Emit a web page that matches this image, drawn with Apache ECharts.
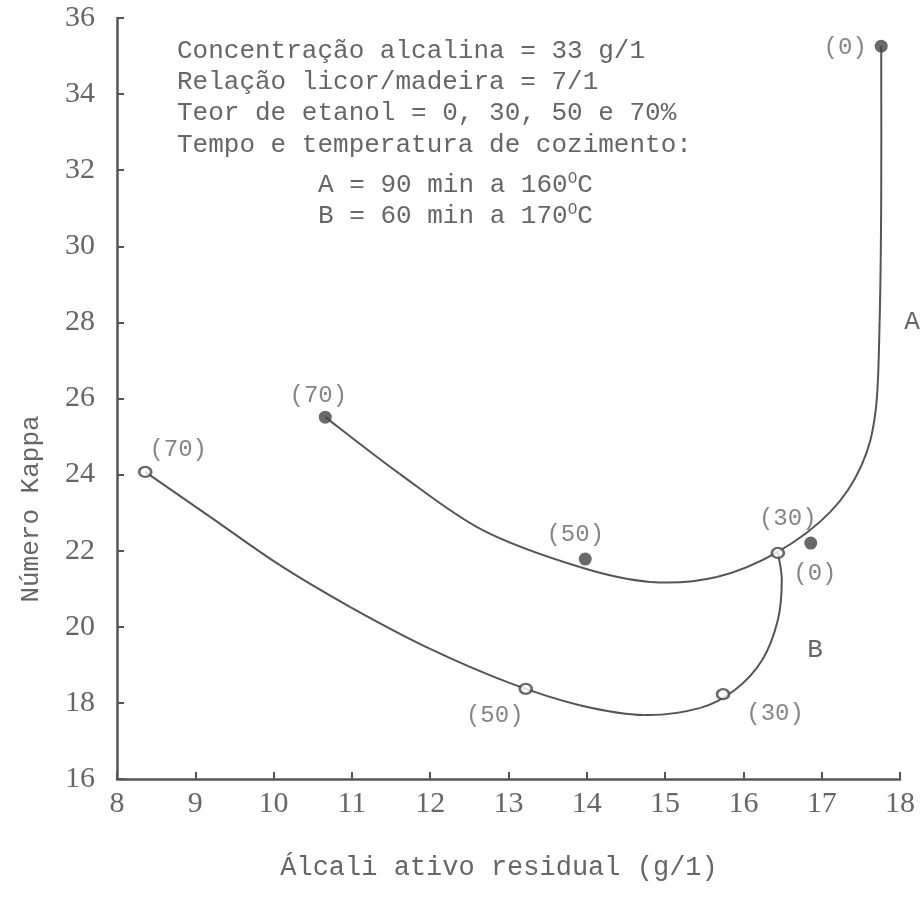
<!DOCTYPE html>
<html>
<head>
<meta charset="utf-8">
<script src="https://cdn.jsdelivr.net/npm/echarts@6/dist/echarts.min.js"></script>
<style>
  html, body { margin: 0; padding: 0; background: #fff; }
  #chart { width: 923px; height: 912px; }
</style>
</head>
<body>
<div id="chart"></div>
<script>
// Axis ranges and tick spacing
const xMin = 8, xMax = 18, xStep = 1;
const yMin = 16, yMax = 36, yStep = 2;

// Measured points, [alkali residual (g/1), kappa number]
const pointsA = [[10.66, 25.51], [13.98, 21.78], [16.86, 22.20], [17.76, 35.26]];
const pointsB = [[8.36, 24.07], [13.22, 18.37], [15.74, 18.23], [16.44, 21.94]];
// Ethanol content of each point (%)
const ethanolA = ['70', '50', '30', '0'];
const ethanolB = ['70', '50', '30', '0'];

// Hand-fitted trend curves
const curveA = [[10.66, 25.51], [11.61, 24.02], [12.67, 22.54], [13.91, 21.57], [14.81, 21.18],
  [15.66, 21.31], [16.44, 21.97], [17.11, 23.02], [17.51, 24.25], [17.69, 25.70],
  [17.74, 28.06], [17.76, 31.22], [17.76, 35.26]];
const curveB = [[8.36, 24.07], [9.19, 22.89], [10.08, 21.62], [10.98, 20.52], [12.00, 19.42],
  [13.02, 18.52], [13.91, 17.94], [14.74, 17.68], [15.45, 17.87], [15.89, 18.34],
  [16.24, 19.13], [16.44, 20.18], [16.49, 21.23], [16.44, 21.94]];

// Label offsets (px) relative to each marker
const offsetsA = [[-7, -22], [-10, -24], [-23, -24], [-36, 1]];
const offsetsB = [[33, -22], [-31, 27], [52, 19], [37, 21]];

const ink = '#555';
const textInk = '#666';
const mono = '"Liberation Mono", "DejaVu Sans Mono", monospace';
const serif = '"Liberation Serif", "DejaVu Serif", serif';

const chart = echarts.init(document.getElementById('chart'));

function labelled(points, names, offsets) {
  return points.map((p, i) => ({
    value: p,
    label: { offset: offsets[i], formatter: '(' + names[i] + ')' }
  }));
}

// Smooth Catmull-Rom curve through the fitted points, drawn in pixel space
function curveRenderer(points) {
  return function (params, api) {
    if (params.dataIndex !== 0) return null;
    const px = points.map(p => api.coord(p));
    const children = [];
    for (let i = 0; i < px.length - 1; i++) {
      const p0 = px[i - 1] || px[i];
      const p1 = px[i];
      const p2 = px[i + 1];
      const p3 = px[i + 2] || p2;
      children.push({
        type: 'bezierCurve',
        shape: {
          x1: p1[0], y1: p1[1], x2: p2[0], y2: p2[1],
          cpx1: p1[0] + (p2[0] - p0[0]) / 6, cpy1: p1[1] + (p2[1] - p0[1]) / 6,
          cpx2: p2[0] - (p3[0] - p1[0]) / 6, cpy2: p2[1] - (p3[1] - p1[1]) / 6
        },
        style: { stroke: ink, lineWidth: 2, fill: null }
      });
    }
    return { type: 'group', children: children };
  };
}

const pointLabel = {
  show: true, position: 'inside',
  fontFamily: mono, fontSize: 24, color: textInk
};

const notes = [
  { text: 'Concentração alcalina = 33 g/1', x: 177, y: 51 },
  { text: 'Relação licor/madeira = 7/1', x: 177, y: 82 },
  { text: 'Teor de etanol = 0, 30, 50 e 70%', x: 177, y: 113 },
  { text: 'Tempo e temperatura de cozimento:', x: 177, y: 145 },
  { text: 'A = 90 min a 160{sup|O}C', x: 318, y: 185 },
  { text: 'B = 60 min a 170{sup|O}C', x: 318, y: 216 }
];

const graphics = notes.map(n => ({
  type: 'text', x: n.x, y: n.y,
  style: {
    text: n.text, fontFamily: mono, fontSize: 26, fill: textInk,
    verticalAlign: 'middle',
    rich: { sup: { fontFamily: mono, fontSize: 16, fill: textInk, verticalAlign: 'top', padding: [0, 0, 12, 0] } }
  }
}));

graphics.push(
  { type: 'text', x: 912, y: 322, style: { text: 'A', fontFamily: mono, fontSize: 26, fill: textInk, align: 'center', verticalAlign: 'middle' } },
  { type: 'text', x: 815, y: 650, style: { text: 'B', fontFamily: mono, fontSize: 26, fill: textInk, align: 'center', verticalAlign: 'middle' } },
  { type: 'text', x: 499, y: 868, style: { text: 'Álcali ativo residual (g/1)', fontFamily: mono, fontSize: 27, fill: textInk, align: 'center', verticalAlign: 'middle' } },
  { type: 'text', x: 31, y: 509, rotation: Math.PI / 2, style: { text: 'Número Kappa', fontFamily: mono, fontSize: 26, fill: textInk, align: 'center', verticalAlign: 'middle' } }
);

function makeAxis(min, max, step, margin) {
  return {
    type: 'value', min: min, max: max, interval: step,
    splitLine: { show: false },
    axisLine: { show: true, lineStyle: { color: ink, width: 2.5 } },
    axisTick: { show: true, inside: false, length: -7, lineStyle: { color: ink, width: 2 } },
    axisLabel: { fontFamily: serif, fontSize: 30, color: textInk, margin: margin }
  };
}

chart.setOption({
  animation: false,
  backgroundColor: '#fff',
  grid: { left: 117, right: 23, top: 18, bottom: 133, containLabel: false },
  xAxis: makeAxis(xMin, xMax, xStep, 10),
  yAxis: makeAxis(yMin, yMax, yStep, 22),
  graphic: graphics,
  series: [
    {
      name: 'A curve', type: 'custom', data: curveA,
      encode: { x: 0, y: 1 }, renderItem: curveRenderer(curveA), z: 2
    },
    {
      name: 'B curve', type: 'custom', data: curveB,
      encode: { x: 0, y: 1 }, renderItem: curveRenderer(curveB), z: 2
    },
    {
      name: 'A', type: 'scatter', symbol: 'circle', symbolSize: 13,
      itemStyle: { color: '#444' },
      label: pointLabel,
      data: labelled(pointsA, ethanolA, offsetsA), z: 3
    },
    {
      name: 'B', type: 'scatter', symbol: 'circle', symbolSize: [12, 10],
      itemStyle: { color: '#fff', borderColor: '#444', borderWidth: 2.5 },
      label: pointLabel,
      data: labelled(pointsB, ethanolB, offsetsB), z: 3
    }
  ]
});
</script>
</body>
</html>
